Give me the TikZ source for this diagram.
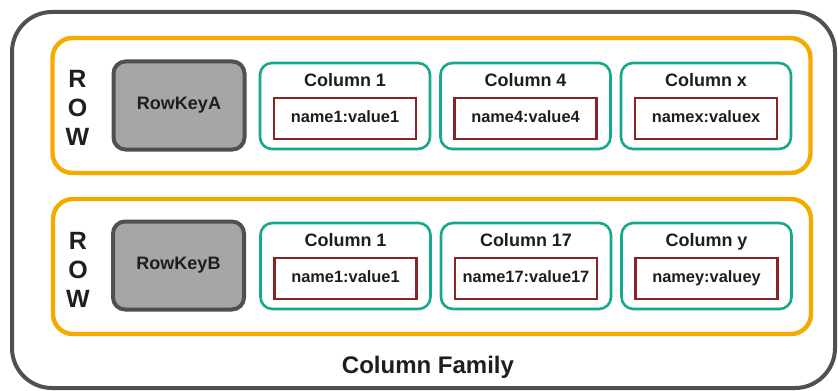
\documentclass[tikz,border=0pt]{standalone}
\usepackage{fontspec}
\setmainfont{Liberation Sans}
\usetikzlibrary{positioning}

\definecolor{famgray}{RGB}{80,80,80}
\definecolor{roworange}{RGB}{245,170,0}
\definecolor{keyfill}{RGB}{166,166,166}
\definecolor{colteal}{RGB}{22,168,138}
\definecolor{valred}{RGB}{138,36,36}
\definecolor{inkblack}{RGB}{30,30,30}

\begin{document}
\begin{tikzpicture}[
                x=0.5pt, y=-0.5pt,
                every node/.style={text=inkblack, outer sep=0pt},
                family/.style={draw=famgray, line width=2pt, rounded corners=20pt, minimum width=411.5pt, minimum height=188pt},
                rowbox/.style={draw=roworange, line width=2.2pt, rounded corners=10pt, minimum width=379pt, minimum height=67.5pt},
                keybox/.style={draw=famgray, fill=keyfill, line width=2pt, rounded corners=6pt, minimum width=65.5pt, minimum height=44pt, font=\bfseries\fontsize{9}{11}\selectfont},
                colbox/.style={draw=colteal, line width=1.3pt, rounded corners=6pt, minimum width=85pt, minimum height=43pt},
                valbox/.style={draw=valred, line width=1.3pt, minimum width=71pt, minimum height=20.5pt, inner sep=0pt, text height=6pt, text depth=1.6pt, font=\bfseries\fontsize{8.2}{10}\selectfont},
                coltitle/.style={inner sep=0pt, text height=6.6pt, text depth=1.8pt, font=\bfseries\fontsize{9}{11}\selectfont},
                rowlabel/.style={align=center, inner sep=0pt, font=\bfseries\fontsize{12.5}{14.5}\selectfont},
                node distance=5.25pt
            ]

            \useasboundingbox (0,0) rectangle (838,390);

            \node[family] (family) at (423.5,200) {};
            \node[font=\bfseries\fontsize{12}{14}\selectfont] (familylbl) at (428,367) {Column Family};

            % first row
            \node[rowbox] (row1) at (431.5,105.5) {};
            \node[rowlabel] (row1lbl) at (77.5,108) {R\\O\\W};
            \node[keybox] (key1) at (179,105.5) {RowKeyA};

            \node[colbox] (c11) at (345,106) {};
            \node[colbox, right=of c11] (c12) {};
            \node[colbox, right=of c12] (c13) {};

            \node[valbox, above=5pt of c11.south] (v11) {name1:value1};
            \node[valbox, above=5pt of c12.south] (v12) {name4:value4};
            \node[valbox, above=5pt of c13.south] (v13) {namex:valuex};

            \node[coltitle] (t11) at ([yshift=-9.4pt]c11.north) {Column 1};
            \node[coltitle] (t12) at ([yshift=-9.4pt]c12.north) {Column 4};
            \node[coltitle] (t13) at ([yshift=-9.4pt]c13.north) {Column x};

            % second row
            \node[rowbox] (row2) at (432,266.5) {};
            \node[rowlabel] (row2lbl) at (78,270) {R\\O\\W};
            \node[keybox] (key2) at (178.5,265.5) {RowKeyB};

            \node[colbox] (c21) at (345.5,266) {};
            \node[colbox, right=of c21] (c22) {};
            \node[colbox, right=of c22] (c23) {};

            \node[valbox, above=5pt of c21.south] (v21) {name1:value1};
            \node[valbox, above=5pt of c22.south] (v22) {name17:value17};
            \node[valbox, above=5pt of c23.south] (v23) {namey:valuey};

            \node[coltitle] (t21) at ([yshift=-9.4pt]c21.north) {Column 1};
            \node[coltitle] (t22) at ([yshift=-9.4pt]c22.north) {Column 17};
            \node[coltitle] (t23) at ([yshift=-9.4pt]c23.north) {Column y};

        \end{tikzpicture}
\end{document}
